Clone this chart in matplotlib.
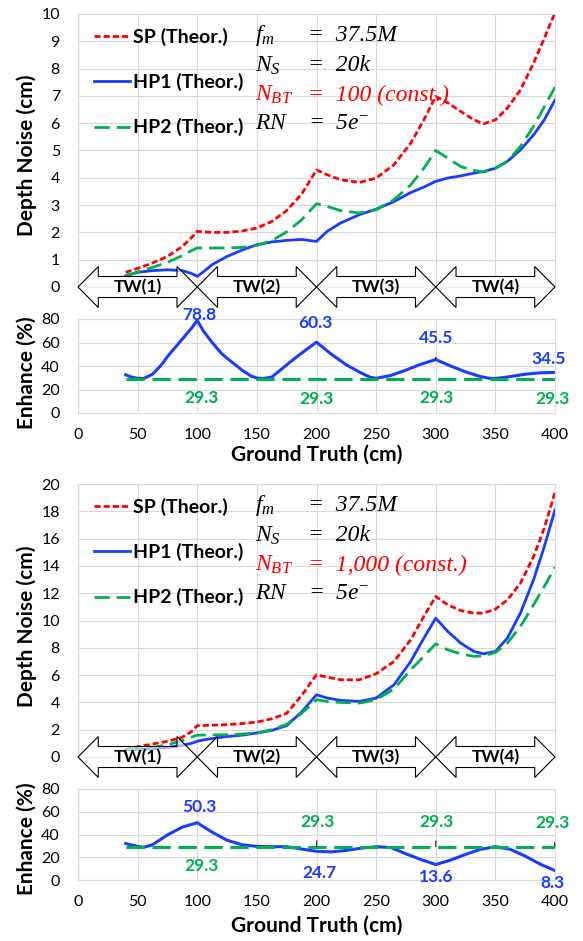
import matplotlib
matplotlib.use('Agg')
import matplotlib.pyplot as plt
from matplotlib.patches import Polygon
from matplotlib.transforms import blended_transform_factory

plt.rcParams['font.family'] = ['Lato', 'DejaVu Sans']
plt.rcParams['mathtext.fontset'] = 'custom'
plt.rcParams['mathtext.rm'] = 'Liberation Serif'
plt.rcParams['mathtext.it'] = 'Liberation Serif:italic'
plt.rcParams['mathtext.bf'] = 'Liberation Serif:bold'

# ---------------- data ----------------
X_DEPTH = [40, 50, 62.5, 75, 87.5, 95, 100, 105, 112.5, 125, 137.5, 150, 162.5, 175, 187.5,
           200, 209, 220, 236, 250, 265, 279, 290, 300, 310, 321, 332, 340, 350,
           360, 371, 382, 391, 400]

# N_BT = 100
SP_100 = [0.54, 0.68, 0.88, 1.12, 1.48, 1.8, 2.04, 2.02, 2.0, 2.0, 2.05, 2.16, 2.4, 2.8, 3.4,
          4.29, 4.11, 3.93, 3.83, 3.99, 4.48, 5.27, 6.12, 6.98, 6.75, 6.43, 6.12, 5.98, 6.12,
          6.55, 7.22, 8.2, 9.11, 10.05]
HP1_100 = [0.41, 0.54, 0.6, 0.63, 0.6, 0.5, 0.39, 0.55, 0.82, 1.12, 1.35, 1.55, 1.65, 1.71, 1.74,
           1.67, 2.04, 2.34, 2.65, 2.85, 3.13, 3.46, 3.66, 3.87, 3.99, 4.07, 4.17, 4.23, 4.35,
           4.6, 5.02, 5.57, 6.12, 6.85]
HP2_100 = [0.41, 0.55, 0.72, 0.9, 1.15, 1.33, 1.43, 1.43, 1.43, 1.43, 1.45, 1.52, 1.7, 2.02, 2.46,
           3.05, 2.95, 2.8, 2.71, 2.83, 3.2, 3.74, 4.35, 5.0, 4.72, 4.41, 4.27, 4.21, 4.35,
           4.6, 5.15, 5.88, 6.6, 7.32]

# N_BT = 1,000
SP_1000 = [0.54, 0.75, 0.95, 1.15, 1.45, 1.85, 2.29, 2.31, 2.33, 2.37, 2.45, 2.56, 2.8, 3.2, 4.5,
           6.02, 5.85, 5.66, 5.66, 6.1, 7.0, 8.59, 10.3, 11.76, 11.15, 10.73, 10.54, 10.54, 10.83,
           11.5, 12.73, 14.68, 16.76, 19.4]
HP1_1000 = [0.54, 0.56, 0.6, 0.7, 0.85, 1.0, 1.15, 1.25, 1.35, 1.5, 1.6, 1.76, 1.95, 2.3, 3.3,
            4.56, 4.32, 4.15, 4.07, 4.32, 5.29, 7.0, 8.7, 10.17, 9.2, 8.34, 7.73, 7.56, 7.73,
            8.7, 10.54, 12.98, 15.41, 18.1]
HP2_1000 = [0.54, 0.6, 0.7, 0.9, 1.2, 1.45, 1.6, 1.61, 1.62, 1.63, 1.68, 1.76, 2.0, 2.4, 3.2,
            4.2, 4.07, 4.0, 3.95, 4.2, 4.98, 6.39, 7.37, 8.29, 7.85, 7.56, 7.37, 7.41, 7.66,
            8.34, 9.56, 11.15, 12.49, 13.9]

X_ENH_100 = [40, 45, 50, 55, 62.5, 70, 75, 80, 87.5, 95, 100, 105, 112.5, 120, 125, 137.5,
             145, 150, 155, 162.5, 175, 187.5, 200, 212.5, 225, 237.5, 245, 250, 262.5,
             275, 287.5, 300, 312.5, 325, 337.5, 345, 350, 362.5, 375, 387.5, 400]
ENH_HP1_100 = [32.5, 30.5, 29.5, 29.3, 33, 41, 48, 54, 63, 72, 78.8, 70, 60, 51, 46.6, 36.5,
               31.5, 29.7, 29.3, 30.5, 41, 51, 60.3, 50, 41, 34, 30.5, 29.5, 32,
               36.5, 41.5, 45.5, 40, 35, 31, 29.5, 29.3, 31, 33, 34.2, 34.5]
X_ENH_1000 = [40, 50, 55, 62.5, 75, 87.5, 100, 112.5, 125, 137.5, 150, 162.5, 175, 187.5,
              200, 212.5, 225, 237.5, 250, 262.5, 275, 287.5, 300, 312.5, 325, 337.5, 350,
              362.5, 375, 387.5, 400]
ENH_HP1_1000 = [32, 29.5, 28.7, 31, 39.6, 46.5, 50.3, 42, 35, 31, 29.5, 29.3, 29.3, 27.2,
                25.2, 24.7, 26, 28, 29.3, 28.5, 23, 18, 13.6, 17.5, 22.5, 27, 29.3,
                27, 21, 14, 8.3]
X_ENH_HP2 = [40, 400]
ENH_HP2 = [29.3, 29.3]

SERIES_NAMES = ['SP (Theor.)', 'HP1 (Theor.)', 'HP2 (Theor.)']
TW_LABELS = ['TW(1)', 'TW(2)', 'TW(3)', 'TW(4)']
TW_BOUNDS = [0, 100, 200, 300, 400]
X_TICKS = [0, 50, 100, 150, 200, 250, 300, 350, 400]

PARAM_SYMBOLS = [r'$f_m$', r'$N_S$', r'$N_{BT}$', r'$RN$']
PARAM_VALUES_100 = ['=  37.5M', '=  20k', '=  100 (const.)', '=  5$e^{-}$']
PARAM_VALUES_1000 = ['=  37.5M', '=  20k', '=  1,000 (const.)', '=  5$e^{-}$']

# ---------------- style ----------------
RED = '#FF0000'
BLUE = '#1A3CFF'
GREEN = '#00B050'
GRID = '#D9D9D9'
W, H = 583, 941

fig = plt.figure(figsize=(W / 100, H / 100), dpi=100)


def axes_px(top, bottom, left=78, right=555):
    return fig.add_axes([left / W, 1 - bottom / H, (right - left) / W, (bottom - top) / H])


def style_axes(ax):
    ax.set_xlim(0, 400)
    ax.set_xticks(X_TICKS)
    ax.grid(True, color=GRID, lw=0.8)
    ax.set_axisbelow(True)
    for s in ax.spines.values():
        s.set_color(GRID)
        s.set_linewidth(0.8)
    ax.tick_params(length=0, labelsize=11.5, colors='#000000')
    ax.tick_params(axis='y', pad=13)
    ax.tick_params(axis='x', pad=11)


def draw_depth(ax, sp, hp1, hp2, ymax, ystep, values):
    style_axes(ax)
    ax.set_ylim(0, ymax)
    ax.set_yticks(list(range(0, ymax + 1, ystep)))
    ax.set_xticklabels([])
    l1, = ax.plot(X_DEPTH, sp, color=RED, lw=2.0, dashes=(2.2, 1.1))
    l2, = ax.plot(X_DEPTH, hp1, color=BLUE, lw=2.0)
    l3, = ax.plot(X_DEPTH, hp2, color=GREEN, lw=2.0, dashes=(5.5, 2.5))
    ax.legend([l1, l2, l3], SERIES_NAMES, loc='upper left', bbox_to_anchor=(0.034, 0.95),
              frameon=False, borderpad=0, borderaxespad=0, labelspacing=1.4,
              handlelength=1.85, handletextpad=0.15,
              prop={'family': 'Lato', 'weight': 'bold', 'size': 14})
    # parameters block
    tr = blended_transform_factory(ax.transData, ax.transAxes)
    ys = [0.900, 0.790, 0.683, 0.579]
    for i, (sym, val) in enumerate(zip(PARAM_SYMBOLS, values)):
        c = RED if i == 2 else 'black'
        ax.text(148.5, ys[i], sym, transform=tr, fontsize=17, color=c, va='baseline', ha='left')
        ax.text(193, ys[i], val, transform=tr, fontsize=17, color=c, va='baseline', ha='left',
                family='Liberation Serif', style='italic')
    # arrows
    hl, hh, sh = 17, 0.075, 0.0385
    for lab_, a, b in zip(TW_LABELS, TW_BOUNDS[:-1], TW_BOUNDS[1:]):
        pts = [(a, 0), (a + hl, hh), (a + hl, sh), (b - hl, sh), (b - hl, hh), (b, 0),
               (b - hl, -hh), (b - hl, -sh), (a + hl, -sh), (a + hl, -hh)]
        poly = Polygon(pts, closed=True, transform=tr, facecolor=(1, 1, 1, 0.6),
                       edgecolor='black', lw=0.8, clip_on=False, zorder=5)
        ax.add_patch(poly)
        ax.text((a + b) / 2, 0, lab_, transform=tr, ha='center', va='center',
                fontsize=12.5, fontweight='bold', zorder=6, clip_on=False)


def draw_enh(ax, x, hp1):
    style_axes(ax)
    ax.set_ylim(0, 80)
    ax.set_yticks([0, 20, 40, 60, 80])
    ax.plot(x, hp1, color=BLUE, lw=2.2)
    ax.plot(X_ENH_HP2, ENH_HP2, color=GREEN, lw=2.2, dashes=(6, 2.5))


def lab(ax, x, y, t, c, fs=12.5, line_to=None):
    if line_to is None:
        ax.text(x, y, t, color=c, fontsize=fs, fontweight='bold', ha='center', va='center',
                clip_on=False)
    else:
        ax.annotate(t, xy=line_to, xytext=(x, y), color=c, fontsize=fs, fontweight='bold',
                    ha='center', va='center',
                    arrowprops=dict(arrowstyle='-', color='black', lw=0.7, shrinkA=6, shrinkB=0))


# ---- top pair ----
ax1 = axes_px(14, 287)
draw_depth(ax1, SP_100, HP1_100, HP2_100, 10, 1, PARAM_VALUES_100)
ax2 = axes_px(319, 413)
draw_enh(ax2, X_ENH_100, ENH_HP1_100)
lab(ax2, 102, 83.4, '78.8', BLUE)
lab(ax2, 199, 76.6, '60.3', BLUE)
lab(ax2, 300.6, 64.0, '45.5', BLUE, line_to=(300, 46))
lab(ax2, 395, 45.7, '34.5', BLUE)
for xx, yy in [(103.5, 13.0), (200, 11.9), (300.6, 13.0), (398, 11.7)]:
    lab(ax2, xx, yy, '29.3', GREEN)

# ---- bottom pair ----
ax3 = axes_px(484, 757)
draw_depth(ax3, SP_1000, HP1_1000, HP2_1000, 20, 2, PARAM_VALUES_1000)
ax4 = axes_px(789, 880)
draw_enh(ax4, X_ENH_1000, ENH_HP1_1000)
lab(ax4, 102, 64.4, '50.3', BLUE)
lab(ax4, 103.5, 12.3, '29.3', GREEN)
lab(ax4, 201, 51.3, '29.3', GREEN, line_to=(200, 29.3))
lab(ax4, 300.6, 51.3, '29.3', GREEN, line_to=(300, 29.3))
lab(ax4, 398, 49.8, '29.3', GREEN, line_to=(400, 29.3))
lab(ax4, 202.5, 5.9, '24.7', BLUE)
lab(ax4, 300.6, 2.9, '13.6', BLUE)
lab(ax4, 398, -2.4, '8.3', BLUE)

# axis titles
for yc, t in [(155, 'Depth Noise (cm)'), (373, 'Enhance (%)'), (626, 'Depth Noise (cm)'),
              (839, 'Enhance (%)')]:
    fig.text(26.5 / W, 1 - yc / H, t, rotation=90, ha='center', va='center',
             fontsize=15, fontweight='bold')
for yc in [455, 926]:
    fig.text(316.5 / W, 1 - yc / H, 'Ground Truth (cm)', ha='center', va='center',
             fontsize=15, fontweight='bold')

fig.savefig('out.png', dpi=100)
